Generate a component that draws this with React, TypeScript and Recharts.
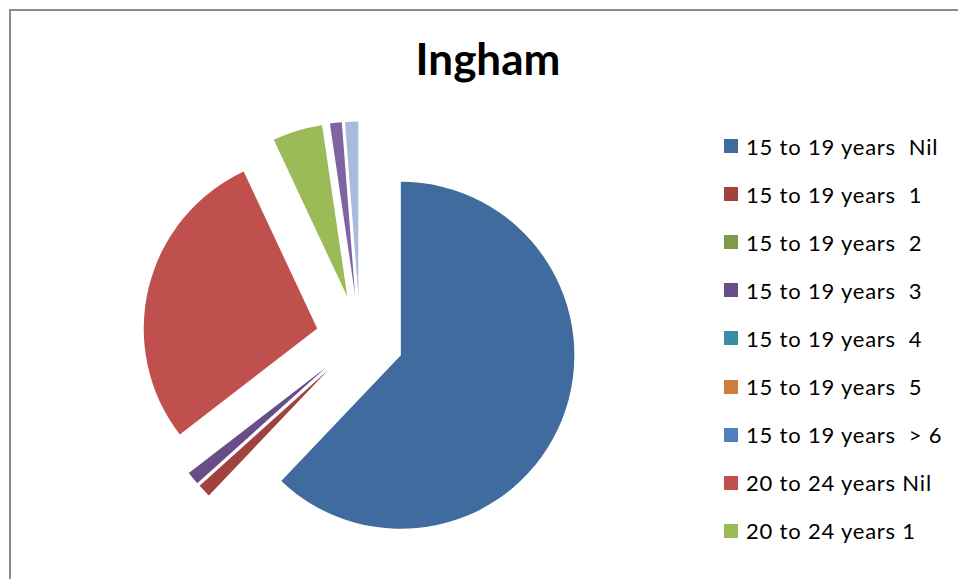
import React from 'react';
import { PieChart, Pie, Cell, Sector, Tooltip, Legend } from 'recharts';

const categories = [
  '15 to 19 years  Nil',
  '15 to 19 years  1',
  '15 to 19 years  2',
  '15 to 19 years  3',
  '15 to 19 years  4',
  '15 to 19 years  5',
  '15 to 19 years  > 6',
  '20 to 24 years Nil',
  '20 to 24 years 1',
  '20 to 24 years 2',
  '20 to 24 years 3',
];
const values = [508, 10, 0, 10, 0, 0, 0, 233, 38, 9, 10];
const colors = [
  '#3F6B9E', '#A04340', '#7F9A48', '#674E87', '#3A8DA4', '#D07C3A',
  '#4F81BD', '#C0504D', '#9BBB59', '#8064A2', '#A9BBDA',
];
const legendCount = 9;
const title = 'Ingham';

const data = categories.map((name, i) => ({ name, value: values[i], fill: colors[i] }));

const EXPLODE = 44;
const RAD = Math.PI / 180;

const ExplodedSector = (props: any) => {
  const { cx, cy, midAngle } = props;
  const dx = EXPLODE * Math.cos(-midAngle * RAD);
  const dy = EXPLODE * Math.sin(-midAngle * RAD);
  return <Sector {...props} cx={cx + dx} cy={cy + dy} stroke="none" />;
};

const renderLegend = () => (
  <div style={{ fontFamily: 'Lato, sans-serif', fontSize: 22, letterSpacing: 0.8, color: '#000' }}>
    {data.slice(0, legendCount).map((d) => (
      <div
        key={d.name}
        style={{ height: 48.1, display: 'flex', alignItems: 'center', whiteSpace: 'pre' }}
      >
        <span
          style={{ display: 'inline-block', width: 14, height: 14, background: d.fill, marginRight: 8 }}
        />
        <span>{d.name}</span>
      </div>
    ))}
  </div>
);

export default function App() {
  return (
    <div style={{ position: 'absolute', left: 0, top: 0, width: 958, height: 579, background: '#fff', overflow: 'hidden' }}>
      <div
        style={{
          position: 'absolute', left: 9, top: 9, width: 1000, height: 1000,
          borderLeft: '2px solid #8c8c8c', borderTop: '2px solid #8c8c8c',
        }}
      />
      <div
        style={{
          position: 'absolute', left: 0, width: 976, top: 36, textAlign: 'center',
          fontFamily: 'Lato, sans-serif', fontWeight: 700, fontSize: 44, lineHeight: '44px', color: '#000',
        }}
      >
        {title}
      </div>
      <PieChart width={958} height={579} style={{ position: 'absolute', left: 0, top: 0 }}>
        <Pie
          data={data}
          dataKey="value"
          nameKey="name"
          cx={355}
          cy={334}
          outerRadius={173.5}
          startAngle={90}
          endAngle={-270}
          stroke="none"
          isAnimationActive={false}
          shape={ExplodedSector}
          activeShape={ExplodedSector}
          inactiveShape={ExplodedSector}
        >
          {data.map((d) => (
            <Cell key={d.name} fill={d.fill} />
          ))}
        </Pie>
        <Tooltip defaultIndex={0} content={() => null} cursor={false} />
        <Legend
          content={renderLegend}
          wrapperStyle={{ left: 724, top: 122, width: 234 }}
        />
      </PieChart>
    </div>
  );
}
